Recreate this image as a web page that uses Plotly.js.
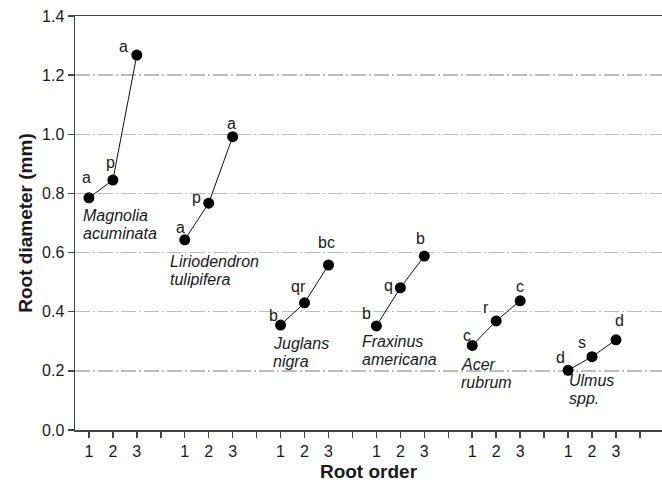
<!DOCTYPE html>
<html>
<head>
<meta charset="utf-8">
<script src="https://cdn.plot.ly/plotly-3.0.1.min.js"></script>
<style>
  html, body { margin: 0; padding: 0; background: #fff; }
  #chart { width: 662px; height: 485px; }
</style>
</head>
<body>
<div id="chart"></div>
<script>
// ---- data ----
const speciesGenus   = ["Magnolia", "Liriodendron", "Juglans", "Fraxinus", "Acer", "Ulmus"];
const speciesEpithet = ["acuminata", "tulipifera", "nigra", "americana", "rubrum", "spp."];
const rootOrder = [1, 2, 3];
const tickLabels = ["1", "2", "3", ""];

const magnoliaDiam     = [0.785, 0.845, 1.268];
const liriodendronDiam = [0.643, 0.767, 0.992];
const juglansDiam      = [0.355, 0.430, 0.558];
const fraxinusDiam     = [0.352, 0.481, 0.588];
const acerDiam         = [0.286, 0.369, 0.437];
const ulmusDiam        = [0.202, 0.248, 0.305];

const magnoliaLetters     = ["a", "p", "a"];
const liriodendronLetters = ["a", "p", "a"];
const juglansLetters      = ["b", "qr", "bc"];
const fraxinusLetters     = ["b", "q", "b"];
const acerLetters         = ["c", "r", "c"];
const ulmusLetters        = ["d", "s", "d"];

const diams = [magnoliaDiam, liriodendronDiam, juglansDiam, fraxinusDiam, acerDiam, ulmusDiam];
const letters = [magnoliaLetters, liriodendronLetters, juglansLetters, fraxinusLetters, acerLetters, ulmusLetters];

// ---- placement (pixel offsets for letter labels, relative to each point) ----
const letterShift = [
  [[-2, 20], [-2, 18], [-13, 9]],
  [[-4, 12], [-12, 6], [-1, 13]],
  [[-7, 10], [-6, 16], [-2, 22]],
  [[-10, 12], [-12, 2], [-4, 18]],
  [[-5, 10], [-10, 13], [0, 14]],
  [[-8, 13], [-10, 14], [3, 19]]
];
const nameShift = [[-6, -9], [-15, -13], [-8, -9], [-14, -7], [-11, -10], [1, -1]];

const FONT = "Liberation Sans, Arial, Helvetica, sans-serif";
const TXT = "#1a1a1a";

const traces = [];
const annotations = [];
diams.forEach((d, g) => {
  const xs = rootOrder.map(o => g * 4 + o);
  traces.push({
    x: xs, y: d, type: "scatter", mode: "lines+markers",
    line: { color: "#111", width: 1 },
    marker: { color: "#000", size: 11 },
    showlegend: false, hoverinfo: "x+y"
  });
  xs.forEach((x, k) => {
    annotations.push({
      x: x, y: d[k], xref: "x", yref: "y", text: letters[g][k],
      showarrow: false, xanchor: "center", yanchor: "middle",
      xshift: letterShift[g][k][0], yshift: letterShift[g][k][1],
      font: { family: FONT, size: 16, color: TXT }
    });
  });
  const nm = [speciesGenus[g], speciesEpithet[g]];
  nm.forEach((t, i) => {
    annotations.push({
      x: xs[0], y: d[0], xref: "x", yref: "y", text: t,
      showarrow: false, xanchor: "left", yanchor: "middle",
      xshift: nameShift[g][0] - 2, yshift: nameShift[g][1] - 9 - i * 18,
      font: { family: FONT, size: 16, color: TXT, style: "italic" }
    });
  });
});

const tickvals = [];
const ticktext = [];
for (let i = 1; i <= 24; i++) { tickvals.push(i); ticktext.push(tickLabels[(i - 1) % 4]); }

const layout = {
  width: 662, height: 485,
  margin: { l: 75, r: 0, t: 16, b: 55, pad: 0 },
  paper_bgcolor: "#fff", plot_bgcolor: "#fff",
  font: { family: FONT, size: 16, color: TXT },
  xaxis: {
    range: [0.42, 24.92], tickmode: "array", tickvals: tickvals, ticktext: ticktext,
    showgrid: false, zeroline: false,
    showline: true, linecolor: "#444", linewidth: 1.5, mirror: true,
    ticks: "outside", ticklen: 6, tickwidth: 1.5, tickcolor: "#444",
    tickfont: { family: FONT, size: 16, color: TXT },
    title: { text: "<b>Root order</b>", font: { family: FONT, size: 19, color: TXT }, standoff: 6 },
    automargin: false
  },
  yaxis: {
    range: [0, 1.4], dtick: 0.2, tick0: 0, tickformat: ".1f",
    showgrid: true, gridcolor: "#bdbdbd", gridwidth: 1.5, griddash: "15px,3px,2px,3px",
    zeroline: false,
    showline: true, linecolor: "#444", linewidth: 1.5, mirror: false,
    ticks: "outside", ticklen: 6, tickwidth: 1.5, tickcolor: "#444",
    tickfont: { family: FONT, size: 16, color: TXT },
    title: { text: "<b>Root diameter (mm)</b>", font: { family: FONT, size: 19, color: TXT }, standoff: 4 },
    automargin: false
  },
  annotations: annotations
};

Plotly.newPlot("chart", traces, layout, { displayModeBar: false, staticPlot: true });
</script>
</body>
</html>
